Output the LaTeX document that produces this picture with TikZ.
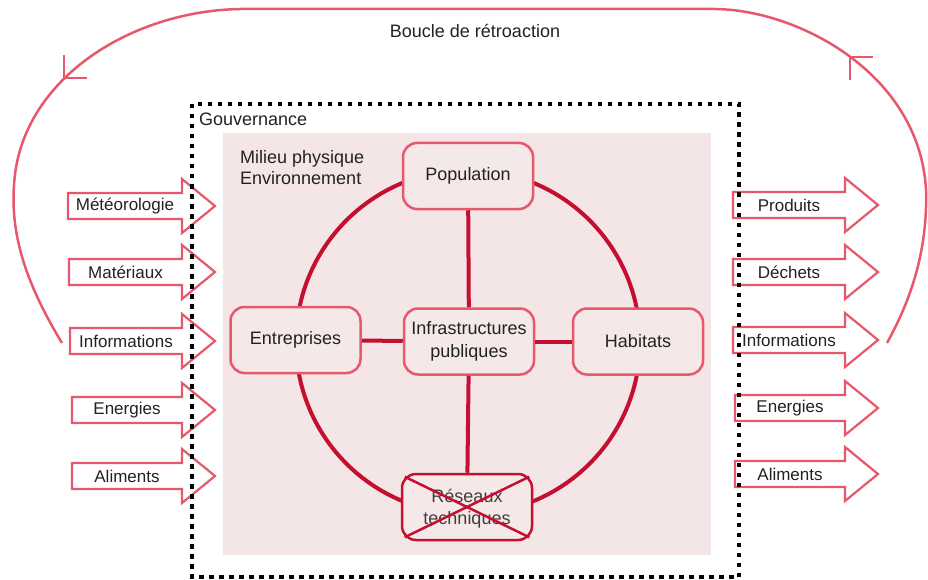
\documentclass[tikz,border=0pt]{standalone}
\usepackage{fontspec}
\setmainfont{Liberation Sans}
\usetikzlibrary{calc}
\definecolor{accent}{RGB}{232,88,108}
\definecolor{dark}{RGB}{196,16,48}
\definecolor{nodefill}{RGB}{245,232,232}
\definecolor{bgpink}{RGB}{244,230,230}
\definecolor{txt}{RGB}{34,34,34}
\definecolor{softtxt}{RGB}{70,60,62}
\newcommand\flowarrow[6]{%
  \draw[flowbox] (#2,#5-13) -- (#3,#5-13) -- (#3,#5-27) -- (#4,#5) -- (#3,#5+27) -- (#3,#5+13) -- (#2,#5+13) -- cycle;
  \node[lbl] (#1) at ({(#2+#3)/2},#5) {#6};
}
\begin{document}
\begin{tikzpicture}[x=1pt,y=-1pt,
  every node/.style={font=\fontsize{18}{22}\selectfont, text=txt},
  box/.style={draw=accent, line width=2.5pt, fill=nodefill, rounded corners=14pt, minimum width=130pt, minimum height=66pt, align=center, inner sep=2pt},
  link/.style={draw=dark, line width=4pt},
  flowbox/.style={draw=accent, line width=2.2pt, fill=white, line join=miter},
  lbl/.style={font=\fontsize{17}{20}\selectfont, inner sep=0pt},
  ringline/.style={draw=accent, line width=2.5pt},
  gov/.style={draw=black, line width=3.2pt, dash pattern=on 4.5pt off 5.5pt},
]
\useasboundingbox (0,0) rectangle (928,580);
\fill[white] (0,0) rectangle (928,580);
% physical environment
\fill[bgpink] (223,133) rectangle (711,555);
\node[anchor=west, align=left, inner sep=0pt, font=\fontsize{18}{21}\selectfont] (milieu) at (240,167.5) {Milieu physique\\Environnement};
% ring
\node[draw=dark, line width=4pt, circle, minimum size=344pt, inner sep=0pt] (ring) at (468,342) {};
% nodes
\node[box] (pop) at (468,176) {Population};
\node[box] (ent) at (295.5,340) {Entreprises};
\node[box, font=\fontsize{18}{23}\selectfont] (inf) at (469,341.5) {Infrastructures\\publiques};
\node[box] (hab) at (638,341.5) {Habitats};
\node[box, draw=dark, text=softtxt] (res) at (467,507) {};
\node[text=softtxt, align=center, font=\fontsize{18}{22}\selectfont] (restxt) at (467,509) {Réseaux\\techniques};
% links
\draw[link] (pop) -- (inf);
\draw[link] (inf) -- (ent);
\draw[link] (inf) -- (hab);
\draw[link] (inf) -- (res);
\draw[draw=dark, line width=2.5pt] ($(res.north west)+(4,4)$) -- ($(res.south east)+(-4,-4)$);
\draw[draw=dark, line width=2.5pt] ($(res.north east)+(-4,4)$) -- ($(res.south west)+(4,-4)$);
% input arrows
\flowarrow{inMeteo}{68}{182}{215}{206}{Météorologie}
\flowarrow{inMat}{69}{182}{215}{272}{Matériaux}
\flowarrow{inInfo}{70}{182}{215}{341}{Informations}
\flowarrow{inEner}{72}{182}{215}{410}{Energies}
\flowarrow{inAlim}{72}{182}{215}{476}{Aliments}
% output arrows
\flowarrow{outProd}{733}{845}{878}{205}{Produits}
\flowarrow{outDech}{733}{845}{878}{272}{Déchets}
\flowarrow{outInfo}{733}{845}{878}{340}{Informations}
\flowarrow{outEner}{735}{845}{878}{408}{Energies}
\flowarrow{outAlim}{735}{845}{878}{474}{Aliments}
% governance
\draw[gov] (192,104) rectangle (739,577);
\node[anchor=west, inner sep=0pt] (gouv) at (199,119) {Gouvernance};
% feedback loop
\coordinate (loopL) at (62,343);
\coordinate (loopR) at (887,343);
\draw[ringline] (loopL) .. controls (30,290) and (10,240) .. (14,185) .. controls (20,80) and (130,11) .. (240,9) -- (715,9) .. controls (800,10) and (920,75) .. (926,190) .. controls (928,260) and (905,310) .. (loopR);
\draw[ringline] (64,55) -- (64,78) -- (87,78);
\draw[ringline] (873,57) -- (850,57) -- (850,80);
\node (boucle) at (475,31) {Boucle de rétroaction};
\end{tikzpicture}
\end{document}
